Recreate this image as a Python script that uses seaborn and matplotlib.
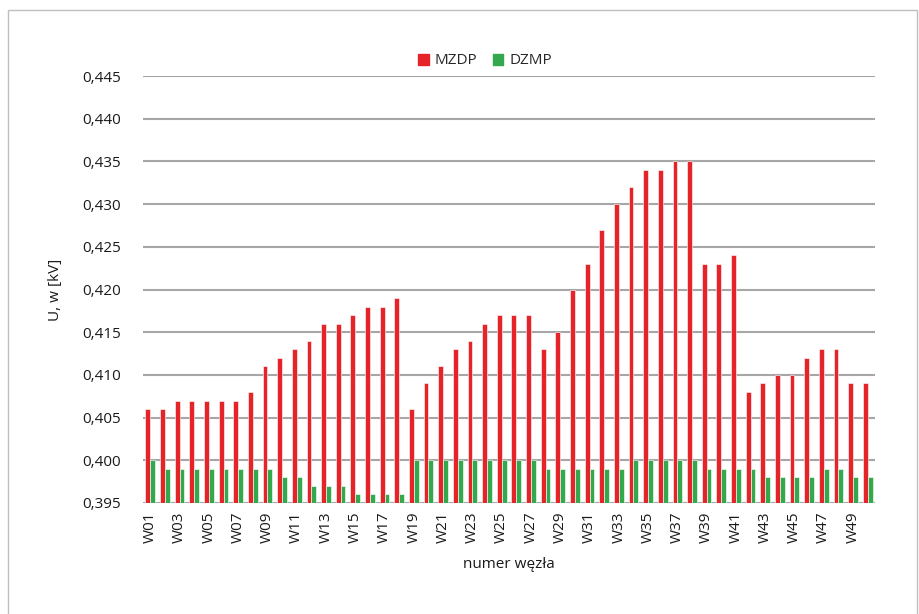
import matplotlib
matplotlib.use('Agg')
import matplotlib.pyplot as plt
import seaborn as sns
import pandas as pd
from matplotlib.patches import Rectangle
from matplotlib.ticker import FuncFormatter, MultipleLocator

nodes = ['W%02d' % i for i in range(1, 51)]

mzdp = [0.406, 0.406, 0.407, 0.407, 0.407, 0.407, 0.407, 0.408, 0.411, 0.412,
        0.413, 0.414, 0.416, 0.416, 0.417, 0.418, 0.418, 0.419, 0.406, 0.409,
        0.411, 0.413, 0.414, 0.416, 0.417, 0.417, 0.417, 0.413, 0.415, 0.420,
        0.423, 0.427, 0.430, 0.432, 0.434, 0.434, 0.435, 0.435, 0.423, 0.423,
        0.424, 0.408, 0.409, 0.410, 0.410, 0.412, 0.413, 0.413, 0.409, 0.409]

dzmp = [0.400, 0.399, 0.399, 0.399, 0.399, 0.399, 0.399, 0.399, 0.399, 0.398,
        0.398, 0.397, 0.397, 0.397, 0.396, 0.396, 0.396, 0.396, 0.400, 0.400,
        0.400, 0.400, 0.400, 0.400, 0.400, 0.400, 0.400, 0.399, 0.399, 0.399,
        0.399, 0.399, 0.399, 0.400, 0.400, 0.400, 0.400, 0.400, 0.399, 0.399,
        0.399, 0.399, 0.398, 0.398, 0.398, 0.398, 0.399, 0.399, 0.398, 0.398]

series_names = ['MZDP', 'DZMP']
colors = ['#E42428', '#34A84C']

df = pd.DataFrame({
    'node': nodes * 2,
    'value': mzdp + dzmp,
    'series': [series_names[0]] * 50 + [series_names[1]] * 50,
})

sns.set_style('white')
plt.rcParams['font.family'] = ['Open Sans', 'DejaVu Sans']

fig = plt.figure(figsize=(9.19, 6.14), dpi=100)
ax = fig.add_axes([143 / 919, 1 - 503 / 614, (875 - 143) / 919, (503 - 76) / 614])

sns.barplot(data=df, x='node', y='value', hue='series', palette=colors,
            saturation=1, width=0.66, ax=ax, edgecolor='white', linewidth=0.4,
            legend=False)

ax.set_ylim(0.395, 0.445)
ax.set_xlim(-0.5, 49.5)
ax.yaxis.set_major_locator(MultipleLocator(0.005))
ax.yaxis.set_major_formatter(FuncFormatter(lambda v, p: ('%.3f' % v).replace('.', ',')))
ax.grid(axis='y', color='#A6A6A6', linewidth=1.5)
ax.set_axisbelow(True)
for s in ax.spines.values():
    s.set_visible(False)

ax.set_xticks(range(0, 50, 2))
ax.set_xticklabels(nodes[::2], rotation=90, fontsize=11, color='#1a1a1a')
ax.tick_params(axis='y', labelsize=11, colors='#1a1a1a', length=0, pad=16)
ax.tick_params(axis='x', length=0, pad=6)

ax.set_xlabel('numer węzła', fontsize=11, color='#1a1a1a', labelpad=10)
ax.set_ylabel('U, w [kV]', fontsize=11, color='#1a1a1a', labelpad=14)

handles = [Rectangle((0, 0), 1, 1, color=c) for c in colors]
fig.legend(handles, series_names, loc='center', bbox_to_anchor=(485 / 919, 1 - 61 / 614),
           ncol=2, frameon=False, fontsize=11, handlelength=0.7, handleheight=0.7,
           handletextpad=0.4, columnspacing=1.0)

fig.patches.append(Rectangle((8 / 919, -0.05), 1 - 10 / 919, 1.05 - 10 / 614,
                             transform=fig.transFigure, fill=False,
                             edgecolor='#BFBFBF', linewidth=1))

fig.savefig('out.png', dpi=100)
